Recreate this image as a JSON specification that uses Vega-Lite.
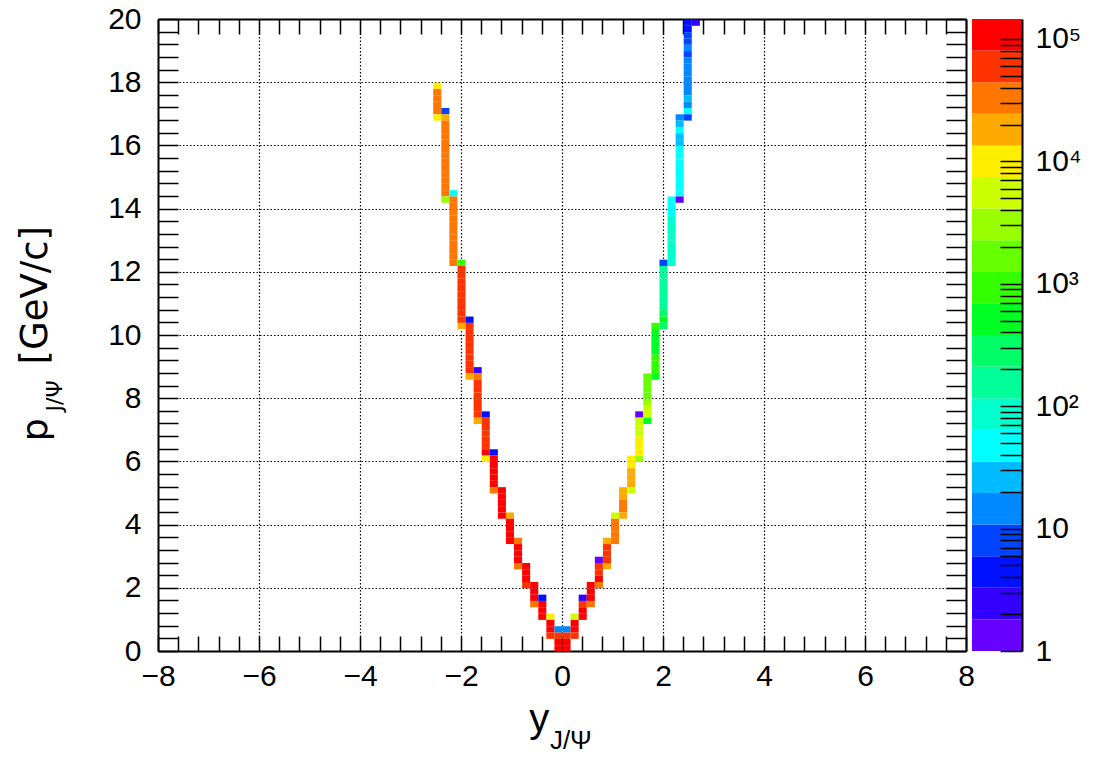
{
  "$schema": "https://vega.github.io/schema/vega-lite/v6.json",
  "background": "white",
  "padding": {"left": 16, "top": 4, "right": 5, "bottom": 5},
  "spacing": 6,
  "bounds": "flush",
  "config": {
    "view": {"stroke": null},
    "axis": {
      "labelFont": "Liberation Sans, Arial, sans-serif",
      "labelFontSize": 30,
      "labelColor": "black",
      "domainColor": "black",
      "domainWidth": 2,
      "tickColor": "black",
      "tickWidth": 1.5,
      "labelFlush": false,
      "labelOverlap": false,
      "labelBound": false,
      "zindex": 1
    }
  },
  "hconcat": [
    {
      "width": 808,
      "height": 632,
      "resolve": {"axis": {"x": "independent", "y": "independent"}},
      "layer": [
        {
          "data": {
            "values": [
              {"x": -2.56, "y": 17.8, "n": 10000}, {"x": -2.56, "y": 17.6, "n": 31000}, {"x": -2.56, "y": 17.4, "n": 33000}, {"x": -2.56, "y": 17.2, "n": 32000}, {"x": -2.56, "y": 17.0, "n": 30000}, {"x": -2.56, "y": 16.8, "n": 10000},
              {"x": -2.4, "y": 17.0, "n": 8}, {"x": -2.4, "y": 16.8, "n": 18000}, {"x": -2.4, "y": 16.6, "n": 32000}, {"x": -2.4, "y": 16.4, "n": 33000}, {"x": -2.4, "y": 16.2, "n": 34000}, {"x": -2.4, "y": 16.0, "n": 33000}, {"x": -2.4, "y": 15.8, "n": 35000}, {"x": -2.4, "y": 15.6, "n": 34000}, {"x": -2.4, "y": 15.4, "n": 36000}, {"x": -2.4, "y": 15.2, "n": 35000}, {"x": -2.4, "y": 15.0, "n": 36000}, {"x": -2.4, "y": 14.8, "n": 34000}, {"x": -2.4, "y": 14.6, "n": 33000}, {"x": -2.4, "y": 14.4, "n": 31000}, {"x": -2.4, "y": 14.2, "n": 3000},
              {"x": -2.24, "y": 14.4, "n": 50}, {"x": -2.24, "y": 14.2, "n": 33000}, {"x": -2.24, "y": 14.0, "n": 35000}, {"x": -2.24, "y": 13.8, "n": 36000}, {"x": -2.24, "y": 13.6, "n": 37000}, {"x": -2.24, "y": 13.4, "n": 38000}, {"x": -2.24, "y": 13.2, "n": 38000}, {"x": -2.24, "y": 13.0, "n": 39000}, {"x": -2.24, "y": 12.8, "n": 38000}, {"x": -2.24, "y": 12.6, "n": 37000}, {"x": -2.24, "y": 12.4, "n": 36000}, {"x": -2.24, "y": 12.2, "n": 30000},
              {"x": -2.08, "y": 12.2, "n": 950}, {"x": -2.08, "y": 12.0, "n": 56000}, {"x": -2.08, "y": 11.8, "n": 58000}, {"x": -2.08, "y": 11.6, "n": 60000}, {"x": -2.08, "y": 11.4, "n": 61000}, {"x": -2.08, "y": 11.2, "n": 62000}, {"x": -2.08, "y": 11.0, "n": 62000}, {"x": -2.08, "y": 10.8, "n": 61000}, {"x": -2.08, "y": 10.6, "n": 60000}, {"x": -2.08, "y": 10.4, "n": 55000}, {"x": -2.08, "y": 10.2, "n": 18000},
              {"x": -1.92, "y": 10.4, "n": 4}, {"x": -1.92, "y": 10.2, "n": 58000}, {"x": -1.92, "y": 10.0, "n": 62000}, {"x": -1.92, "y": 9.8, "n": 64000}, {"x": -1.92, "y": 9.6, "n": 65000}, {"x": -1.92, "y": 9.4, "n": 66000}, {"x": -1.92, "y": 9.2, "n": 65000}, {"x": -1.92, "y": 9.0, "n": 63000}, {"x": -1.92, "y": 8.8, "n": 58000}, {"x": -1.92, "y": 8.6, "n": 18000},
              {"x": -1.76, "y": 8.8, "n": 2}, {"x": -1.76, "y": 8.6, "n": 32000}, {"x": -1.76, "y": 8.4, "n": 66000}, {"x": -1.76, "y": 8.2, "n": 70000}, {"x": -1.76, "y": 8.0, "n": 72000}, {"x": -1.76, "y": 7.8, "n": 72000}, {"x": -1.76, "y": 7.6, "n": 70000}, {"x": -1.76, "y": 7.4, "n": 64000}, {"x": -1.76, "y": 7.2, "n": 18000},
              {"x": -1.6, "y": 7.4, "n": 4}, {"x": -1.6, "y": 7.2, "n": 70000}, {"x": -1.6, "y": 7.0, "n": 75000}, {"x": -1.6, "y": 6.8, "n": 77000}, {"x": -1.6, "y": 6.6, "n": 78000}, {"x": -1.6, "y": 6.4, "n": 76000}, {"x": -1.6, "y": 6.2, "n": 90000}, {"x": -1.6, "y": 6.0, "n": 10000},
              {"x": -1.44, "y": 6.2, "n": 4}, {"x": -1.44, "y": 6.0, "n": 95000}, {"x": -1.44, "y": 5.8, "n": 105000}, {"x": -1.44, "y": 5.6, "n": 108000}, {"x": -1.44, "y": 5.4, "n": 106000}, {"x": -1.44, "y": 5.2, "n": 98000}, {"x": -1.44, "y": 5.0, "n": 32000},
              {"x": -1.28, "y": 5.0, "n": 95000}, {"x": -1.28, "y": 4.8, "n": 110000}, {"x": -1.28, "y": 4.6, "n": 112000}, {"x": -1.28, "y": 4.4, "n": 110000}, {"x": -1.28, "y": 4.2, "n": 96000},
              {"x": -1.12, "y": 4.2, "n": 18000}, {"x": -1.12, "y": 4.0, "n": 105000}, {"x": -1.12, "y": 3.8, "n": 115000}, {"x": -1.12, "y": 3.6, "n": 112000}, {"x": -1.12, "y": 3.4, "n": 98000},
              {"x": -0.96, "y": 3.4, "n": 32000}, {"x": -0.96, "y": 3.2, "n": 110000}, {"x": -0.96, "y": 3.0, "n": 118000}, {"x": -0.96, "y": 2.8, "n": 108000}, {"x": -0.96, "y": 2.6, "n": 32000},
              {"x": -0.8, "y": 2.6, "n": 100000}, {"x": -0.8, "y": 2.4, "n": 118000}, {"x": -0.8, "y": 2.2, "n": 110000}, {"x": -0.8, "y": 2.0, "n": 60000},
              {"x": -0.64, "y": 2.0, "n": 105000}, {"x": -0.64, "y": 1.8, "n": 120000}, {"x": -0.64, "y": 1.6, "n": 110000}, {"x": -0.64, "y": 1.4, "n": 32000},
              {"x": -0.48, "y": 1.6, "n": 4}, {"x": -0.48, "y": 1.4, "n": 105000}, {"x": -0.48, "y": 1.2, "n": 118000}, {"x": -0.48, "y": 1.0, "n": 104000},
              {"x": -0.32, "y": 1.0, "n": 10000}, {"x": -0.32, "y": 0.8, "n": 110000}, {"x": -0.32, "y": 0.6, "n": 100000}, {"x": -0.32, "y": 0.4, "n": 58000},
              {"x": -0.16, "y": 0.6, "n": 15}, {"x": -0.16, "y": 0.4, "n": 60000}, {"x": -0.16, "y": 0.2, "n": 115000}, {"x": -0.16, "y": 0.0, "n": 105000},
              {"x": 0.0, "y": 0.6, "n": 15}, {"x": 0.0, "y": 0.4, "n": 60000}, {"x": 0.0, "y": 0.2, "n": 115000}, {"x": 0.0, "y": 0.0, "n": 105000},
              {"x": 0.16, "y": 1.0, "n": 5500}, {"x": 0.16, "y": 0.8, "n": 108000}, {"x": 0.16, "y": 0.6, "n": 100000}, {"x": 0.16, "y": 0.4, "n": 56000},
              {"x": 0.32, "y": 1.6, "n": 2}, {"x": 0.32, "y": 1.4, "n": 60000}, {"x": 0.32, "y": 1.2, "n": 110000}, {"x": 0.32, "y": 1.0, "n": 100000},
              {"x": 0.48, "y": 2.0, "n": 100000}, {"x": 0.48, "y": 1.8, "n": 112000}, {"x": 0.48, "y": 1.6, "n": 104000}, {"x": 0.48, "y": 1.4, "n": 32000},
              {"x": 0.64, "y": 2.8, "n": 1}, {"x": 0.64, "y": 2.6, "n": 62000}, {"x": 0.64, "y": 2.4, "n": 74000}, {"x": 0.64, "y": 2.2, "n": 88000}, {"x": 0.64, "y": 2.0, "n": 32000},
              {"x": 0.8, "y": 3.4, "n": 18000}, {"x": 0.8, "y": 3.2, "n": 60000}, {"x": 0.8, "y": 3.0, "n": 66000}, {"x": 0.8, "y": 2.8, "n": 62000}, {"x": 0.8, "y": 2.6, "n": 18000},
              {"x": 0.96, "y": 4.2, "n": 5500}, {"x": 0.96, "y": 4.0, "n": 30000}, {"x": 0.96, "y": 3.8, "n": 34000}, {"x": 0.96, "y": 3.6, "n": 33000}, {"x": 0.96, "y": 3.4, "n": 29000},
              {"x": 1.12, "y": 5.0, "n": 17000}, {"x": 1.12, "y": 4.8, "n": 20000}, {"x": 1.12, "y": 4.6, "n": 27000}, {"x": 1.12, "y": 4.4, "n": 26000}, {"x": 1.12, "y": 4.2, "n": 19000},
              {"x": 1.28, "y": 6.0, "n": 10000}, {"x": 1.28, "y": 5.8, "n": 12000}, {"x": 1.28, "y": 5.6, "n": 16000}, {"x": 1.28, "y": 5.4, "n": 17000}, {"x": 1.28, "y": 5.2, "n": 16000}, {"x": 1.28, "y": 5.0, "n": 5500},
              {"x": 1.44, "y": 7.4, "n": 1}, {"x": 1.44, "y": 7.2, "n": 5200}, {"x": 1.44, "y": 7.0, "n": 6000}, {"x": 1.44, "y": 6.8, "n": 6800}, {"x": 1.44, "y": 6.6, "n": 8500}, {"x": 1.44, "y": 6.4, "n": 9500}, {"x": 1.44, "y": 6.2, "n": 9000}, {"x": 1.44, "y": 6.0, "n": 3000},
              {"x": 1.6, "y": 8.6, "n": 1500}, {"x": 1.6, "y": 8.4, "n": 1800}, {"x": 1.6, "y": 8.2, "n": 1900}, {"x": 1.6, "y": 8.0, "n": 2100}, {"x": 1.6, "y": 7.8, "n": 2800}, {"x": 1.6, "y": 7.6, "n": 4600}, {"x": 1.6, "y": 7.4, "n": 5000}, {"x": 1.6, "y": 7.2, "n": 520},
              {"x": 1.76, "y": 10.2, "n": 900}, {"x": 1.76, "y": 10.0, "n": 500}, {"x": 1.76, "y": 9.8, "n": 560}, {"x": 1.76, "y": 9.6, "n": 600}, {"x": 1.76, "y": 9.4, "n": 650}, {"x": 1.76, "y": 9.2, "n": 800}, {"x": 1.76, "y": 9.0, "n": 950}, {"x": 1.76, "y": 8.8, "n": 1000}, {"x": 1.76, "y": 8.6, "n": 500},
              {"x": 1.92, "y": 12.2, "n": 8}, {"x": 1.92, "y": 12.0, "n": 140}, {"x": 1.92, "y": 11.8, "n": 150}, {"x": 1.92, "y": 11.6, "n": 160}, {"x": 1.92, "y": 11.4, "n": 170}, {"x": 1.92, "y": 11.2, "n": 175}, {"x": 1.92, "y": 11.0, "n": 185}, {"x": 1.92, "y": 10.8, "n": 200}, {"x": 1.92, "y": 10.6, "n": 290}, {"x": 1.92, "y": 10.4, "n": 450}, {"x": 1.92, "y": 10.2, "n": 300},
              {"x": 2.08, "y": 14.2, "n": 45}, {"x": 2.08, "y": 14.0, "n": 48}, {"x": 2.08, "y": 13.8, "n": 55}, {"x": 2.08, "y": 13.6, "n": 70}, {"x": 2.08, "y": 13.4, "n": 75}, {"x": 2.08, "y": 13.2, "n": 80}, {"x": 2.08, "y": 13.0, "n": 85}, {"x": 2.08, "y": 12.8, "n": 90}, {"x": 2.08, "y": 12.6, "n": 95}, {"x": 2.08, "y": 12.4, "n": 100}, {"x": 2.08, "y": 12.2, "n": 90},
              {"x": 2.24, "y": 16.8, "n": 15}, {"x": 2.24, "y": 16.6, "n": 27}, {"x": 2.24, "y": 16.4, "n": 40}, {"x": 2.24, "y": 16.2, "n": 28}, {"x": 2.24, "y": 16.0, "n": 30}, {"x": 2.24, "y": 15.8, "n": 38}, {"x": 2.24, "y": 15.6, "n": 42}, {"x": 2.24, "y": 15.4, "n": 45}, {"x": 2.24, "y": 15.2, "n": 48}, {"x": 2.24, "y": 15.0, "n": 50}, {"x": 2.24, "y": 14.8, "n": 52}, {"x": 2.24, "y": 14.6, "n": 55}, {"x": 2.24, "y": 14.4, "n": 50}, {"x": 2.24, "y": 14.2, "n": 1},
              {"x": 2.4, "y": 19.8, "n": 4}, {"x": 2.4, "y": 19.6, "n": 5}, {"x": 2.4, "y": 19.4, "n": 7}, {"x": 2.4, "y": 19.2, "n": 8}, {"x": 2.4, "y": 19.0, "n": 12}, {"x": 2.4, "y": 18.8, "n": 9}, {"x": 2.4, "y": 18.6, "n": 13}, {"x": 2.4, "y": 18.4, "n": 14}, {"x": 2.4, "y": 18.2, "n": 15}, {"x": 2.4, "y": 18.0, "n": 16}, {"x": 2.4, "y": 17.8, "n": 17}, {"x": 2.4, "y": 17.6, "n": 18}, {"x": 2.4, "y": 17.4, "n": 24}, {"x": 2.4, "y": 17.2, "n": 18}, {"x": 2.4, "y": 17.0, "n": 40}, {"x": 2.4, "y": 16.8, "n": 8},
              {"x": 2.56, "y": 19.8, "n": 2}
            ]
          },
          "mark": {"type": "rect"},
          "encoding": {
            "x": {
              "field": "x", "type": "quantitative",
              "bin": {"binned": true, "step": 0.16},
              "scale": {"domain": [-8, 8], "nice": false, "zero": false},
              "axis": {
                "orient": "bottom", "title": null,
                "values": [-8, -7.6, -7.2, -6.8, -6.4, -6, -5.6, -5.2, -4.8, -4.4, -4, -3.6, -3.2, -2.8, -2.4, -2, -1.6, -1.2, -0.8, -0.4, 0, 0.4, 0.8, 1.2, 1.6, 2, 2.4, 2.8, 3.2, 3.6, 4, 4.4, 4.8, 5.2, 5.6, 6, 6.4, 6.8, 7.2, 7.6, 8],
                "labelExpr": "abs(datum.value % 2) < 0.001 ? format(datum.value, 'd') : ''",
                "tickSize": -15,
                "labelPadding": 25,
                "encode": {"ticks": {"update": {"y2": {"signal": "abs(datum.value % 2) < 0.001 ? -15 : -8"}}}},
                "grid": true, "gridColor": "black", "gridDash": [1.5, 2], "gridWidth": 1.2,
                "gridOpacity": {"condition": {"test": "abs(datum.value % 2) < 0.001 && abs(datum.value) < 7.9", "value": 1}, "value": 0}
              }
            },
            "y": {
              "field": "y", "type": "quantitative",
              "bin": {"binned": true, "step": 0.2},
              "scale": {"domain": [0, 20], "nice": false},
              "axis": {
                "orient": "left", "title": null,
                "values": [0, 0.4, 0.8, 1.2, 1.6, 2, 2.4, 2.8, 3.2, 3.6, 4, 4.4, 4.8, 5.2, 5.6, 6, 6.4, 6.8, 7.2, 7.6, 8, 8.4, 8.8, 9.2, 9.6, 10, 10.4, 10.8, 11.2, 11.6, 12, 12.4, 12.8, 13.2, 13.6, 14, 14.4, 14.8, 15.2, 15.6, 16, 16.4, 16.8, 17.2, 17.6, 18, 18.4, 18.8, 19.2, 19.6, 20],
                "labelExpr": "abs(datum.value % 2) < 0.001 ? format(datum.value, 'd') : ''",
                "tickSize": -20,
                "labelPadding": 37,
                "encode": {"ticks": {"update": {"x2": {"signal": "abs(datum.value % 2) < 0.001 ? 20 : 10"}}}},
                "grid": true, "gridColor": "black", "gridDash": [1.5, 2], "gridWidth": 1.2,
                "gridOpacity": {"condition": {"test": "abs(datum.value % 2) < 0.001 && datum.value > 0.1 && datum.value < 19.9", "value": 1}, "value": 0}
              }
            },
            "color": {
              "field": "n", "type": "quantitative",
              "scale": {
                "type": "threshold",
                "domain": [1.812, 3.283, 5.949, 10.78, 19.53, 35.39, 64.13, 116.2, 210.6, 381.6, 691.4, 1253, 2270, 4114, 7455, 13508, 24478, 44355, 80370],
                "range": ["#6600ff", "#3300ff", "#0011ff", "#0044ff", "#0088ff", "#00bbff", "#00ffff", "#00ffcc", "#00ff99", "#00ff66", "#00ff22", "#33ff00", "#66ff00", "#99ff00", "#ccff00", "#ffee00", "#ffaa00", "#ff7700", "#ff3300", "#ff0000"]
              },
              "legend": null
            }
          }
        },
        {
          "data": {"values": [{"label": "y"}]},
          "mark": {"type": "text", "font": "Liberation Sans, Arial, sans-serif", "fontSize": 40, "align": "left", "baseline": "alphabetic", "color": "black"},
          "encoding": {
            "x": {
              "datum": -0.65, "type": "quantitative",
              "scale": {"domain": [-8, 8], "nice": false, "zero": false},
              "axis": {
                "orient": "top", "title": null, "labels": false, "grid": false,
                "values": [-8, -7.6, -7.2, -6.8, -6.4, -6, -5.6, -5.2, -4.8, -4.4, -4, -3.6, -3.2, -2.8, -2.4, -2, -1.6, -1.2, -0.8, -0.4, 0, 0.4, 0.8, 1.2, 1.6, 2, 2.4, 2.8, 3.2, 3.6, 4, 4.4, 4.8, 5.2, 5.6, 6, 6.4, 6.8, 7.2, 7.6, 8],
                "tickSize": -15,
                "encode": {"ticks": {"update": {"y2": {"signal": "abs(datum.value % 2) < 0.001 ? 15 : 8"}}}}
              }
            },
            "y": {
              "datum": -2.56, "type": "quantitative",
              "scale": {"domain": [0, 20], "nice": false},
              "axis": {
                "orient": "right", "title": null, "labels": false, "grid": false,
                "values": [0, 0.4, 0.8, 1.2, 1.6, 2, 2.4, 2.8, 3.2, 3.6, 4, 4.4, 4.8, 5.2, 5.6, 6, 6.4, 6.8, 7.2, 7.6, 8, 8.4, 8.8, 9.2, 9.6, 10, 10.4, 10.8, 11.2, 11.6, 12, 12.4, 12.8, 13.2, 13.6, 14, 14.4, 14.8, 15.2, 15.6, 16, 16.4, 16.8, 17.2, 17.6, 18, 18.4, 18.8, 19.2, 19.6, 20],
                "tickSize": -20,
                "encode": {"ticks": {"update": {"x2": {"signal": "abs(datum.value % 2) < 0.001 ? -20 : -10"}}}}
              }
            },
            "text": {"field": "label"}
          }
        },
        {
          "data": {"values": [{"label": "J/Ψ"}]},
          "mark": {"type": "text", "font": "Liberation Sans, Arial, sans-serif", "fontSize": 26, "align": "left", "baseline": "alphabetic", "color": "black"},
          "encoding": {
            "x": {"datum": -0.24, "type": "quantitative", "scale": {"domain": [-8, 8], "nice": false, "zero": false}, "axis": null},
            "y": {"datum": -3.1, "type": "quantitative", "scale": {"domain": [0, 20], "nice": false}, "axis": null},
            "text": {"field": "label"}
          }
        },
        {
          "data": {"values": [{"label": "p"}]},
          "mark": {"type": "text", "font": "DejaVu Sans, Liberation Sans, sans-serif", "fontSize": 36, "align": "left", "baseline": "alphabetic", "angle": 270, "color": "black"},
          "encoding": {
            "x": {"datum": -10.2, "type": "quantitative", "scale": {"domain": [-8, 8], "nice": false, "zero": false}, "axis": null},
            "y": {"datum": 6.64, "type": "quantitative", "scale": {"domain": [0, 20], "nice": false}, "axis": null},
            "text": {"field": "label"}
          }
        },
        {
          "data": {"values": [{"label": "J/Ψ"}]},
          "mark": {"type": "text", "font": "DejaVu Sans, Liberation Sans, sans-serif", "fontSize": 22, "align": "left", "baseline": "alphabetic", "angle": 270, "color": "black"},
          "encoding": {
            "x": {"datum": -9.9, "type": "quantitative", "scale": {"domain": [-8, 8], "nice": false, "zero": false}, "axis": null},
            "y": {"datum": 7.58, "type": "quantitative", "scale": {"domain": [0, 20], "nice": false}, "axis": null},
            "text": {"field": "label"}
          }
        },
        {
          "data": {"values": [{"label": "[GeV/c]"}]},
          "mark": {"type": "text", "font": "DejaVu Sans, Liberation Sans, sans-serif", "fontSize": 37, "align": "left", "baseline": "alphabetic", "angle": 270, "color": "black"},
          "encoding": {
            "x": {"datum": -10.2, "type": "quantitative", "scale": {"domain": [-8, 8], "nice": false, "zero": false}, "axis": null},
            "y": {"datum": 9.07, "type": "quantitative", "scale": {"domain": [0, 20], "nice": false}, "axis": null},
            "text": {"field": "label"}
          }
        }
      ]
    },
    {
      "width": 50,
      "height": 632,
      "data": {
        "values": [
          {"lo": 1, "hi": 1.812, "n": 1}, {"lo": 1.812, "hi": 3.283, "n": 2}, {"lo": 3.283, "hi": 5.949, "n": 4}, {"lo": 5.949, "hi": 10.78, "n": 8},
          {"lo": 10.78, "hi": 19.53, "n": 15}, {"lo": 19.53, "hi": 35.39, "n": 27}, {"lo": 35.39, "hi": 64.13, "n": 50}, {"lo": 64.13, "hi": 116.2, "n": 90},
          {"lo": 116.2, "hi": 210.6, "n": 160}, {"lo": 210.6, "hi": 381.6, "n": 290}, {"lo": 381.6, "hi": 691.4, "n": 520}, {"lo": 691.4, "hi": 1253, "n": 950},
          {"lo": 1253, "hi": 2270, "n": 1700}, {"lo": 2270, "hi": 4114, "n": 3000}, {"lo": 4114, "hi": 7455, "n": 5500}, {"lo": 7455, "hi": 13508, "n": 10000},
          {"lo": 13508, "hi": 24478, "n": 18000}, {"lo": 24478, "hi": 44355, "n": 32000}, {"lo": 44355, "hi": 80370, "n": 58000}, {"lo": 80370, "hi": 145600, "n": 105000}
        ]
      },
      "mark": {"type": "rect"},
      "encoding": {
        "y": {
          "field": "lo", "type": "quantitative",
          "scale": {"type": "log", "domain": [1, 145600], "nice": false},
          "axis": {
            "orient": "right", "title": null, "grid": false,
            "values": [1, 2, 3, 4, 5, 6, 7, 8, 9, 10, 20, 30, 40, 50, 60, 70, 80, 90, 100, 200, 300, 400, 500, 600, 700, 800, 900, 1000, 2000, 3000, 4000, 5000, 6000, 7000, 8000, 9000, 10000, 20000, 30000, 40000, 50000, 60000, 70000, 80000, 90000, 100000],
            "labelExpr": "datum.value == 1 ? '1' : datum.value == 10 ? '10' : datum.value == 100 ? '10²' : datum.value == 1000 ? '10³' : datum.value == 10000 ? '10⁴' : datum.value == 100000 ? '10⁵' : ''",
            "tickSize": -22,
            "labelPadding": 35,
            "encode": {"ticks": {"update": {"x2": {"signal": "indexof([1, 10, 100, 1000, 10000, 100000], datum.value) >= 0 ? -22 : -11"}}}},
            "labelAlign": "left",
            "labelBaseline": "middle",
            "zindex": 2
          }
        },
        "y2": {"field": "hi"},
        "color": {
          "field": "n", "type": "quantitative",
          "scale": {
            "type": "threshold",
            "domain": [1.812, 3.283, 5.949, 10.78, 19.53, 35.39, 64.13, 116.2, 210.6, 381.6, 691.4, 1253, 2270, 4114, 7455, 13508, 24478, 44355, 80370],
            "range": ["#6600ff", "#3300ff", "#0011ff", "#0044ff", "#0088ff", "#00bbff", "#00ffff", "#00ffcc", "#00ff99", "#00ff66", "#00ff22", "#33ff00", "#66ff00", "#99ff00", "#ccff00", "#ffee00", "#ffaa00", "#ff7700", "#ff3300", "#ff0000"]
          },
          "legend": null
        }
      }
    }
  ]
}
